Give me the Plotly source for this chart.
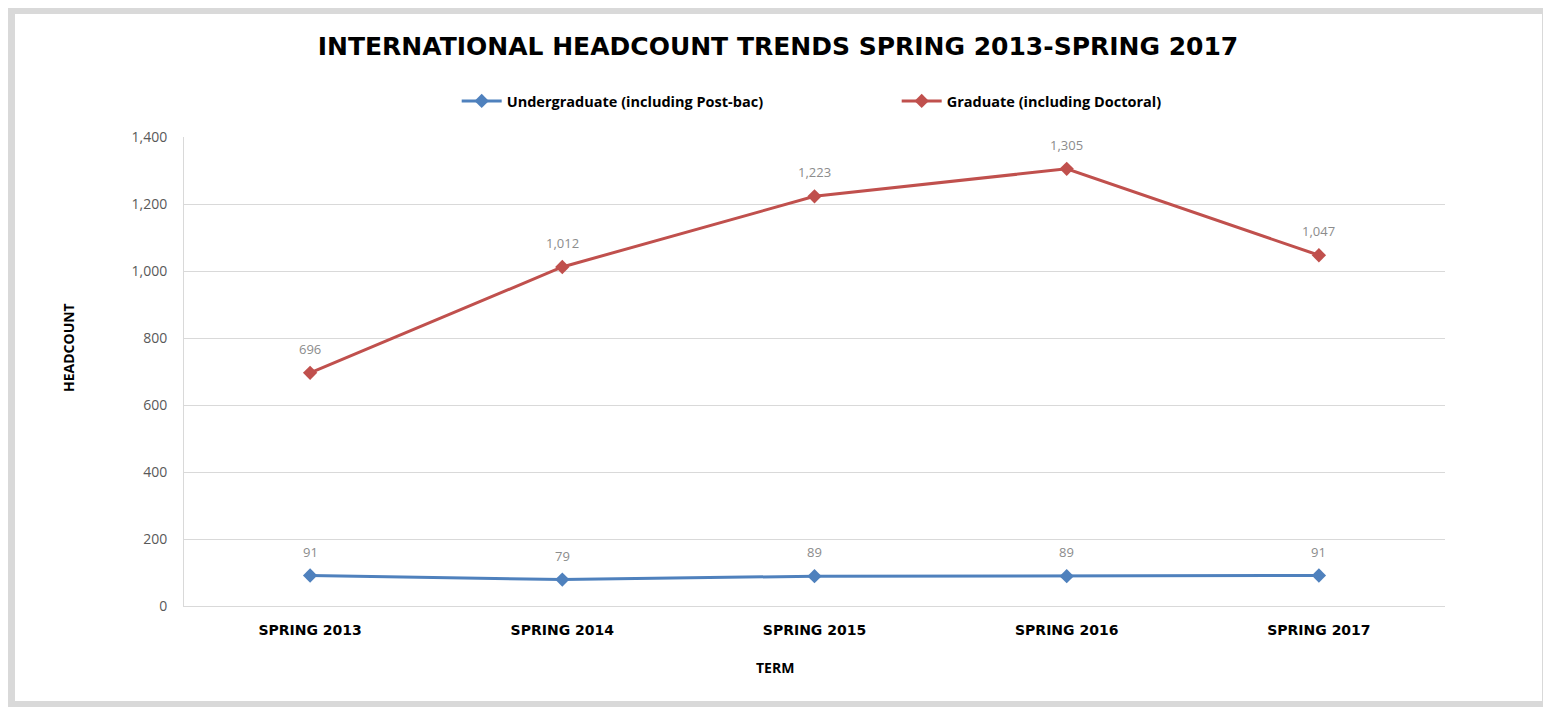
import plotly.graph_objects as go

terms = ["SPRING 2013", "SPRING 2014", "SPRING 2015", "SPRING 2016", "SPRING 2017"]
undergrad = [91, 79, 89, 89, 91]
graduate = [696, 1012, 1223, 1305, 1047]
y_ticks = [0, 200, 400, 600, 800, 1000, 1200, 1400]
y_tick_labels = ["0", "200", "400", "600", "800", "1,000", "1,200", "1,400"]

BLUE = "#4f81bd"
RED = "#c0504d"

# page offset introduced by the default body margin of the html page
OFF = 8
W, H = 1551, 707
# plot area in page pixels
L, R, T, B = 184, 1445, 137, 606


def px(xp):
    return (xp - L) / (R - L)


def py(yp):
    return (B - yp) / (B - T)


fig = go.Figure()
fig.add_trace(go.Scatter(
    x=terms, y=undergrad, mode="lines+markers",
    name="Undergraduate (including Post-bac)",
    line=dict(color=BLUE, width=3),
    marker=dict(symbol="diamond", size=11, color=BLUE),
))
fig.add_trace(go.Scatter(
    x=terms, y=graduate, mode="lines+markers",
    name="Graduate (including Doctoral)",
    line=dict(color=RED, width=3),
    marker=dict(symbol="diamond", size=11, color=RED),
))

annotations = []
for series in (undergrad, graduate):
    for t, v in zip(terms, series):
        annotations.append(dict(
            x=t, y=v, xref="x", yref="y", text=f"{v:,}", showarrow=False,
            xanchor="center", yanchor="middle",
            yshift=24, font=dict(family="Open Sans", size=13, color="#8c8c8c"),
        ))

annotations.append(dict(
    x=px(68), y=py(347), xref="paper", yref="paper", text="<b>HEADCOUNT</b>",
    textangle=-90, showarrow=False, xanchor="center", yanchor="middle",
    font=dict(family="Open Sans", size=14, color="#000000"),
))
annotations.append(dict(
    x=px(775), y=py(667), xref="paper", yref="paper", text="<b>TERM</b>",
    showarrow=False, xanchor="center", yanchor="middle",
    font=dict(family="Open Sans", size=14, color="#000000"),
))

shapes = [
    dict(type="rect", xref="paper", yref="paper", layer="below",
         x0=px(3), x1=px(1600), y0=py(760), y1=py(3),
         fillcolor="#d9d9d9", line=dict(width=0)),
    dict(type="rect", xref="paper", yref="paper", layer="below",
         x0=px(15), x1=px(1542), y0=py(701), y1=py(14),
         fillcolor="#ffffff", line=dict(width=0)),
]

fig.update_layout(
    width=W, height=H,
    margin=dict(l=L - OFF, r=W - (R - OFF), t=T - OFF, b=H - (B - OFF), pad=0),
    paper_bgcolor="#ffffff",
    plot_bgcolor="rgba(0,0,0,0)",
    title=dict(
        text="<b>INTERNATIONAL HEADCOUNT TRENDS SPRING 2013-SPRING 2017</b>",
        x=px(778), xref="paper", xanchor="center",
        y=1 - (46 - OFF) / H, yanchor="middle",
        font=dict(family="DejaVu Sans", size=25, color="#000000"),
    ),
    legend=dict(
        orientation="h", x=px(463) - 0.005, xanchor="left", y=py(101), yanchor="middle",
        font=dict(family="Open Sans", size=14.5, color="#000000", weight="bold"),
        entrywidth=385, itemwidth=40, bgcolor="rgba(0,0,0,0)",
    ),
    showlegend=True,
    annotations=annotations,
    shapes=shapes,
    xaxis=dict(
        type="category", range=[-0.5, 4.5],
        showline=True, linecolor="#d9d9d9", linewidth=1,
        showgrid=False, ticks="", ticklabelstandoff=11,
        tickfont=dict(family="DejaVu Sans", size=14, color="#000000", weight="bold"),
        fixedrange=True,
    ),
    yaxis=dict(
        range=[0, 1400], tickvals=y_ticks, ticktext=y_tick_labels,
        showline=True, linecolor="#d9d9d9", linewidth=1,
        showgrid=True, gridcolor="#d9d9d9", gridwidth=1,
        zeroline=False, ticks="", ticklabelstandoff=13,
        tickfont=dict(family="Open Sans", size=14, color="#595959"),
        fixedrange=True,
    ),
)

fig.write_html("out.html")
